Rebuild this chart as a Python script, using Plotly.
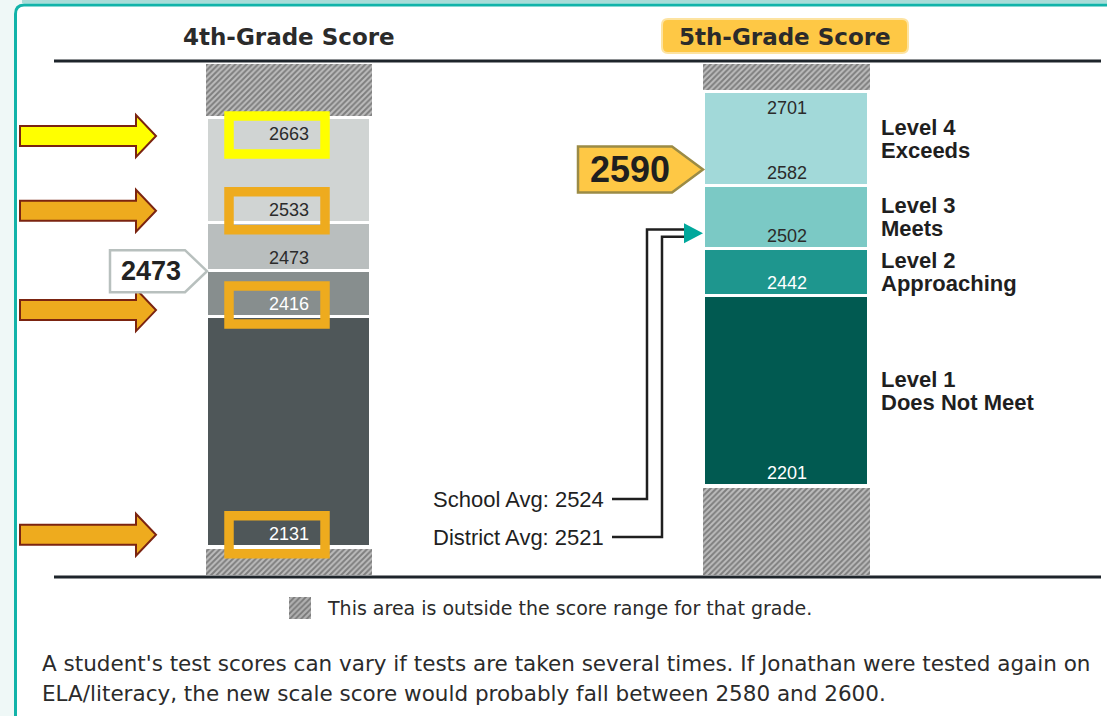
import plotly.graph_objects as go

W, H = 1107, 716

# ---------------- data ----------------
GRADES = ["4th-Grade Score", "5th-Grade Score"]
G4_CUTS = [2131, 2416, 2473, 2533, 2663]          # min, L2, L3, L4 cut, max
G5_CUTS = [2201, 2442, 2502, 2582, 2701]
G4_COLORS = ["#4f5759", "#878e8e", "#b9bebe", "#d0d4d3"]
G5_COLORS = ["#015a51", "#1e968e", "#7bc9c5", "#a2d9d9"]
LEVEL_TITLES = ["Level 1", "Level 2", "Level 3", "Level 4"]
LEVEL_NAMES = ["Does Not Meet", "Approaching", "Meets", "Exceeds"]
G4_LABEL_COLORS = ["#ffffff", "#ffffff", "#2b2b2b", "#2b2b2b", "#2b2b2b"]
G5_LABEL_COLORS = ["#ffffff", "#ffffff", "#2b2b2b", "#2b2b2b", "#2b2b2b"]
BOXED_4TH = [2663, 2533, 2416, 2131]
BOX_COLORS = ["#ffff00", "#eeab1e", "#eeab1e", "#eeab1e"]
PRIOR_SCORE = 2473
CURRENT_SCORE = 2590
SCHOOL_AVG = 2524
DISTRICT_AVG = 2521
LEGEND_TEXT = "This area is outside the score range for that grade."
NOTE_LINES = [
    "A student's test scores can vary if tests are taken several times. If Jonathan were tested again on",
    "ELA/literacy, the new scale score would probably fall between 2580 and 2600.",
]

# ---------------- layout constants ----------------
PLOT_TOP, PLOT_BOT = 62, 577
Y4_RANGE = [2093.5, 2732.5]
Y5_RANGE = [2085.5, 2739.1]
X_RANGE = [-0.5809, 1.6442]
DOM_Y = [1 - PLOT_BOT / H, 1 - PLOT_TOP / H]
ARROW_DY = [1, 0, 5, 0]


def px(x):
    return x / W


def py(y):
    return 1 - y / H


def score_px(s, rng):
    return PLOT_TOP + (rng[1] - s) / (rng[1] - rng[0]) * (PLOT_BOT - PLOT_TOP)


def xcat_px(i):
    return (i - X_RANGE[0]) / (X_RANGE[1] - X_RANGE[0]) * W


def poly(points):
    return "M" + " L".join(f"{px(x):.5f},{py(y):.5f}" for x, y in points) + " Z"


def polyline(points):
    return "M" + " L".join(f"{px(x):.5f},{py(y):.5f}" for x, y in points)


def rounded_rect(x0, y0, x1, y1, r):
    return (f"M{px(x0+r)},{py(y0)} L{px(x1-r)},{py(y0)} Q{px(x1)},{py(y0)} {px(x1)},{py(y0+r)} "
            f"L{px(x1)},{py(y1-r)} Q{px(x1)},{py(y1)} {px(x1-r)},{py(y1)} L{px(x0+r)},{py(y1)} "
            f"Q{px(x0)},{py(y1)} {px(x0)},{py(y1-r)} L{px(x0)},{py(y0+r)} Q{px(x0)},{py(y0)} {px(x0+r)},{py(y0)} Z")


def text(x, y, s, size, family="Liberation Sans, Arial, sans-serif", color="#1f1f1f", xanchor="center", **kw):
    d = dict(x=px(x), y=py(y), xref="paper", yref="paper", text=s, showarrow=False,
             xanchor=xanchor, yanchor="middle", font=dict(family=family, size=size, color=color))
    d.update(kw)
    return d


fig = go.Figure()

HATCH = dict(shape="/", fgcolor="#404040", bgcolor="#bdbdbd", size=4, solidity=0.5)

# hatched "outside range" areas
for g, cuts, rng, ax in [(GRADES[0], G4_CUTS, Y4_RANGE, "y"), (GRADES[1], G5_CUTS, Y5_RANGE, "y2")]:
    fig.add_trace(go.Bar(
        x=[g, g], base=[rng[0], cuts[-1]], y=[cuts[0] - rng[0], rng[1] - cuts[-1]],
        width=0.342, yaxis=ax, marker=dict(color="#bdbdbd", pattern=HATCH, line=dict(color="white", width=4)),
        hoverinfo="skip", showlegend=False))

# level bands
for g, cuts, colors, ax in [(GRADES[0], G4_CUTS, G4_COLORS, "y"), (GRADES[1], G5_CUTS, G5_COLORS, "y2")]:
    for i in range(4):
        fig.add_trace(go.Bar(
            x=[g], base=[cuts[i]], y=[cuts[i + 1] - cuts[i]], width=0.33, yaxis=ax,
            marker=dict(color=colors[i], line=dict(color="white", width=3)),
            hoverinfo="skip", showlegend=False))

# legend swatch in its own tiny subplot
fig.add_trace(go.Bar(x=[0], y=[1], width=1, xaxis="x3", yaxis="y3",
                     marker=dict(color="#a9a9a9", pattern=dict(shape="/", fgcolor="#404040", bgcolor="#b0b0b0", size=4, solidity=0.45),
                                 line=dict(width=0)),
                     hoverinfo="skip", showlegend=False))

shapes = []
ann = []

# frame
shapes.append(dict(type="path", xref="paper", yref="paper", layer="below",
                   path=f"M{px(15.5)},{py(730)} L{px(15.5)},{py(14)} Q{px(15.5)},{py(5)} {px(24)},{py(5)} L{px(1120)},{py(5)} L{px(1120)},{py(730)} Z",
                   fillcolor="white", line=dict(color="#12b3a9", width=3)))
shapes.append(dict(type="line", xref="paper", yref="paper", layer="below",
                   x0=px(22), x1=px(1110), y0=py(1.5), y1=py(1.5), line=dict(color="#a9dcd8", width=3)))

# top & bottom rules
for yy in (61, 577):
    shapes.append(dict(type="line", xref="paper", yref="paper", layer="above",
                       x0=px(54), x1=px(1101), y0=py(yy), y1=py(yy), line=dict(color="#1e252b", width=3)))

# band value labels
LBL_FONT = "Liberation Sans, Arial, sans-serif"
for g, cuts, cols, ax in [(GRADES[0], G4_CUTS, G4_LABEL_COLORS, "y"), (GRADES[1], G5_CUTS, G5_LABEL_COLORS, "y2")]:
    for j, s in enumerate(cuts):
        shift = -16 if j == len(cuts) - 1 else 13
        ann.append(dict(x=g, xref="x", y=s, yref=ax, yshift=shift, text=str(s), showarrow=False,
                        font=dict(family=LBL_FONT, size=18, color=cols[j]), xanchor="center", yanchor="middle"))

# highlight boxes around 4th-grade labels and block arrows
cx4 = xcat_px(0)
for s, col, dy in zip(BOXED_4TH, BOX_COLORS, ARROW_DY):
    shift = 17 if s == G4_CUTS[-1] else -12
    c = score_px(s, Y4_RANGE) + shift
    shapes.append(dict(type="rect", xref="paper", yref="paper", layer="above",
                       x0=px(cx4 - 60), x1=px(cx4 + 36), y0=py(c - 19), y1=py(c + 19),
                       line=dict(color=col, width=9.5)))
    a = c + dy
    shapes.append(dict(type="path", xref="paper", yref="paper", layer="above",
                       path=poly([(20, a - 10), (136, a - 10), (136, a - 21), (156, a), (136, a + 21), (136, a + 10), (20, a + 10)]),
                       fillcolor=col, line=dict(color="#7b2411", width=2)))

# prior-score callout (4th grade)
c = score_px(PRIOR_SCORE, Y4_RANGE)
shapes.append(dict(type="path", xref="paper", yref="paper", layer="above",
                   path=poly([(110, c - 21), (185, c - 21), (207, c), (185, c + 21), (110, c + 21)]),
                   fillcolor="white", line=dict(color="#b8c0be", width=2.5)))
ann.append(text(151, c, f"<b>{PRIOR_SCORE}</b>", 27, color="#222222"))

# current score callout (5th grade)
c = score_px(CURRENT_SCORE, Y5_RANGE) - 10
shapes.append(dict(type="path", xref="paper", yref="paper", layer="above",
                   path=poly([(578, c - 23), (672, c - 23), (703, c), (672, c + 23), (578, c + 23)]),
                   fillcolor="#fec845", line=dict(color="#9b8b45", width=2.5)))
ann.append(text(630, c, f"<b>{CURRENT_SCORE}</b>", 36, color="#1f1f1f"))

# school / district average leaders
ys = score_px(SCHOOL_AVG, Y5_RANGE) - 2
yd = score_px(DISTRICT_AVG, Y5_RANGE) + 3
shapes.append(dict(type="path", xref="paper", yref="paper", layer="above",
                   path=polyline([(612, 499), (647, 499), (647, ys), (690, ys)]), line=dict(color="#1f1f1f", width=2.5)))
shapes.append(dict(type="path", xref="paper", yref="paper", layer="above",
                   path=polyline([(612, 537), (662, 537), (662, yd), (690, yd)]), line=dict(color="#1f1f1f", width=2.5)))
ym = (ys + yd) / 2
shapes.append(dict(type="path", xref="paper", yref="paper", layer="above",
                   path=poly([(684, ym - 10), (703, ym), (684, ym + 10)]), fillcolor="#00a89c", line=dict(width=0)))
ann.append(text(606, 499, f"School Avg: {SCHOOL_AVG}", 22, xanchor="right"))
ann.append(text(606, 537, f"District Avg: {DISTRICT_AVG}", 22, xanchor="right"))

# level names right of 5th-grade column
for i in range(4):
    mid = (G5_CUTS[i] + G5_CUTS[i + 1]) / 2
    for txt, sh in [(LEVEL_TITLES[i], 11.5), (LEVEL_NAMES[i], -11.5)]:
        ann.append(dict(x=px(879), xref="paper", y=mid, yref="y2", yshift=sh, text=f"<b>{txt}</b>", showarrow=False,
                        xanchor="left", yanchor="middle",
                        font=dict(family="Liberation Sans, Arial, sans-serif", size=22, color="#1f1f1f")))

# headers
ann.append(text(xcat_px(0), 37, f"<b>{GRADES[0]}</b>", 23, family="DejaVu Sans, sans-serif", color="#2b2b2b"))
shapes.append(dict(type="path", xref="paper", yref="paper", layer="above",
                   path=rounded_rect(662, 19, 908, 53, 6), fillcolor="#fec845", line=dict(color="#fde3a0", width=2)))
ann.append(text(785, 37, f"<b>{GRADES[1]}</b>", 23, family="DejaVu Sans, sans-serif", color="#2b2b2b"))

# legend text and note
ann.append(text(325, 608, LEGEND_TEXT, 19, family="DejaVu Sans, sans-serif", color="#2b2b2b", xanchor="left"))
for k, line in enumerate(NOTE_LINES):
    ann.append(text(40, 663 + 30 * k, line, 21.5, family="DejaVu Sans, sans-serif", color="#2b2b2b", xanchor="left"))

fig.update_layout(
    width=W, height=H, margin=dict(l=0, r=0, t=0, b=0),
    paper_bgcolor="#eff8f7", plot_bgcolor="rgba(0,0,0,0)",
    barmode="overlay", bargap=0, showlegend=False,
    xaxis=dict(type="category", categoryorder="array", categoryarray=GRADES, range=X_RANGE, domain=[0, 1],
               visible=False, fixedrange=True),
    yaxis=dict(range=Y4_RANGE, domain=DOM_Y, visible=False, fixedrange=True),
    yaxis2=dict(range=Y5_RANGE, overlaying="y", visible=False, fixedrange=True),
    xaxis3=dict(domain=[px(289), px(311)], range=[-0.5, 0.5], visible=False, anchor="y3", fixedrange=True),
    yaxis3=dict(domain=[py(619), py(597)], range=[0, 1], visible=False, anchor="x3", fixedrange=True),
    shapes=shapes, annotations=ann,
)

fig.write_html("out.html", config={"displayModeBar": False},
               post_script="document.body.style.margin='0';document.body.style.overflow='hidden';")
